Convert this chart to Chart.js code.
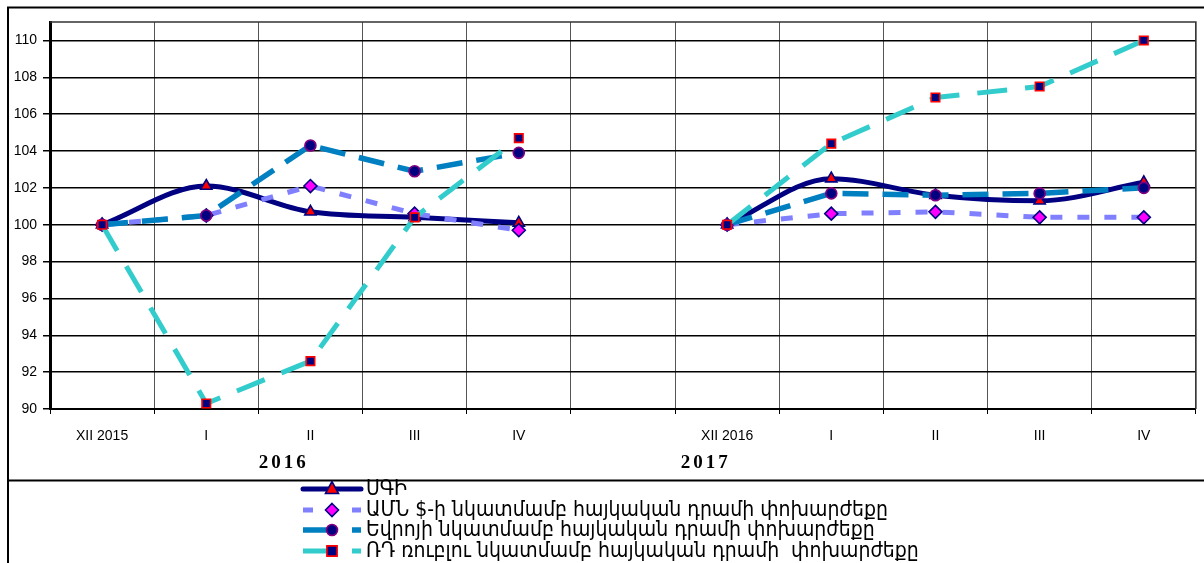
<!DOCTYPE html>
<html>
<head>
<meta charset="utf-8">
<script src="https://cdn.jsdelivr.net/npm/chart.js@4.4.1/dist/chart.umd.min.js"></script>
<style>
html,body{margin:0;padding:0;background:#fff;}
#wrap{position:relative;width:1204px;height:563px;}
</style>
</head>
<body>
<div id="wrap"><canvas id="c"></canvas></div>
<script>
// ---- data ----
const categories = ['XII 2015', 'I', 'II', 'III', 'IV', '', 'XII 2016', 'I', 'II', 'III', 'IV'];
const yearLabels = ['2016', '2017'];
const yearPositions = [1.73, 5.78]; // category-index positions of the year captions
const seriesNames = [
  'ՍԳԻ',
  'ԱՄՆ $-ի նկատմամբ հայկական դրամի փոխարժեքը',
  'Եվրոյի նկատմամբ հայկական դրամի փոխարժեքը',
  'ՌԴ ռուբլու նկատմամբ հայկական դրամի  փոխարժեքը'
];
const sgiValues = [100, 102.1, 100.7, 100.4, 100.1, null, 100, 102.5, 101.6, 101.3, 102.3];
const usdValues = [100, 100.5, 102.1, 100.6, 99.7, null, 100, 100.6, 100.7, 100.4, 100.4];
const eurValues = [100, 100.5, 104.3, 102.9, 103.9, null, 100, 101.7, 101.6, 101.7, 102.0];
const rubValues = [100, 90.3, 92.6, 100.4, 104.7, null, 100, 104.4, 106.9, 107.5, 110.0];
const yTickValues = [90, 92, 94, 96, 98, 100, 102, 104, 106, 108, 110];
const yMin = 90, yMax = 111;

// ---- styles ----
const styles = [
  {line:'#000080', dash:[], width:5, point:'triangle', fill:'#ff0000', border:'#000080', r:6.5, order:3, legendLeft:[303,361], legendRight:null},
  {line:'#8080ff', dash:[12,15], width:5, point:'rectRot', fill:'#ff00ff', border:'#000080', r:6.5, order:2, legendLeft:[303,313], legendRight:[352,361]},
  {line:'#0080c0', dash:[26,14], width:5.5, point:'circle', fill:'#000080', border:'#800080', r:5.5, order:1, legendLeft:[303,328], legendRight:[352,361]},
  {line:'#33cccc', dash:[30,18], width:5, point:'rect', fill:'#000080', border:'#ff0000', r:6, order:0, legendLeft:[303,327], legendRight:[352,361]}
];
const seriesValues = [sgiValues, usdValues, eurValues, rubValues];

const datasets = seriesValues.map((vals, i) => {
  const s = styles[i];
  return {
    label: seriesNames[i],
    data: vals,
    borderColor: s.line,
    backgroundColor: s.fill,
    borderWidth: s.width,
    borderDash: s.dash,
    borderCapStyle: i === 0 ? 'round' : 'butt',
    borderJoinStyle: 'round',
    tension: i === 0 ? 0.4 : 0,
    cubicInterpolationMode: i === 0 ? 'monotone' : 'default',
    pointStyle: s.point,
    pointRadius: s.r,
    pointBackgroundColor: s.fill,
    pointBorderColor: s.border,
    pointBorderWidth: 1.6,
    pointHoverRadius: s.r,
    spanGaps: false,
    order: s.order,
    fill: false
  };
});

function drawMarker(ctx, style, x, y, r, fill, border) {
  ctx.save();
  ctx.fillStyle = fill;
  ctx.strokeStyle = border;
  ctx.lineWidth = 1.6;
  ctx.setLineDash([]);
  ctx.beginPath();
  if (style === 'triangle') {
    ctx.moveTo(x, y - r * 1.15);
    ctx.lineTo(x + r, y + r * 0.7);
    ctx.lineTo(x - r, y + r * 0.7);
    ctx.closePath();
  } else if (style === 'rectRot') {
    ctx.moveTo(x, y - r); ctx.lineTo(x + r, y); ctx.lineTo(x, y + r); ctx.lineTo(x - r, y); ctx.closePath();
  } else if (style === 'circle') {
    ctx.arc(x, y, r, 0, Math.PI * 2);
  } else {
    const h = r * 0.85;
    ctx.rect(x - h, y - h, 2 * h, 2 * h);
  }
  ctx.fill();
  ctx.stroke();
  ctx.restore();
}

const framePlugin = {
  id: 'frame',
  beforeDatasetsDraw(chart) {
    const {ctx, chartArea: a} = chart;
    ctx.save();
    ctx.strokeStyle = '#333';
    ctx.lineWidth = 1.5;
    ctx.beginPath();
    ctx.moveTo(a.left, a.top); ctx.lineTo(a.right, a.top); ctx.lineTo(a.right, a.bottom);
    ctx.stroke();
    ctx.restore();
  },
  afterDraw(chart) {
    const {ctx} = chart;
    const xs = chart.scales.x;
    ctx.save();
    // outer frame
    ctx.strokeStyle = '#000';
    ctx.lineWidth = 2;
    ctx.beginPath();
    ctx.moveTo(8, 563); ctx.lineTo(8, 7.5); ctx.lineTo(1204, 7.5);
    ctx.moveTo(8, 480.5); ctx.lineTo(1204, 480.5);
    ctx.stroke();
    // year captions
    ctx.fillStyle = '#000';
    ctx.font = 'bold 19px "Liberation Serif", "DejaVu Serif", serif';
    if ('letterSpacing' in ctx) ctx.letterSpacing = '3px';
    ctx.textAlign = 'center';
    ctx.textBaseline = 'middle';
    yearLabels.forEach((t, i) => {
      ctx.fillText(t, xs.getPixelForValue(yearPositions[i]) + 1.5, 463);
    });
    if ('letterSpacing' in ctx) ctx.letterSpacing = '0px';
    // legend
    const rowY = [489, 510, 530, 551];
    ctx.textAlign = 'left';
    ctx.textBaseline = 'middle';
    const targetW = 522; // width of the second row text
    let fs = 20;
    ctx.font = fs + 'px "DejaVu Sans Condensed", "DejaVu Sans", sans-serif';
    const w = ctx.measureText(seriesNames[1]).width;
    fs = Math.max(12, Math.min(24, fs * targetW / w));
    ctx.font = fs.toFixed(2) + 'px "DejaVu Sans Condensed", "DejaVu Sans", sans-serif';
    styles.forEach((s, i) => {
      const y = rowY[i];
      ctx.strokeStyle = s.line;
      ctx.lineWidth = s.width;
      ctx.setLineDash([]);
      ctx.lineCap = i === 0 ? 'round' : 'butt';
      ctx.beginPath();
      ctx.moveTo(s.legendLeft[0], y); ctx.lineTo(s.legendLeft[1], y);
      if (s.legendRight) { ctx.moveTo(s.legendRight[0], y); ctx.lineTo(s.legendRight[1], y); }
      ctx.stroke();
      drawMarker(ctx, s.point, 332, y, s.r, s.fill, s.border);
      ctx.fillStyle = '#000';
      ctx.fillText(seriesNames[i], 366, y + 1);
    });
    ctx.restore();
  }
};

new Chart(document.getElementById('c'), {
  type: 'line',
  data: { labels: categories, datasets },
  options: {
    responsive: true,
    maintainAspectRatio: false,
    animation: false,
    devicePixelRatio: 1,
    layout: { padding: { left: 8, top: 22, right: 7, bottom: 104 } },
    plugins: { legend: { display: false }, tooltip: { enabled: false } },
    elements: { line: { borderJoinStyle: 'round' } },
    scales: {
      x: {
        type: 'category',
        offset: true,
        grid: { offset: true, color: '#555', lineWidth: 1, tickLength: 5, drawTicks: true, tickColor: '#000' },
        border: { color: '#000', width: 2 },
        ticks: { color: '#000', font: { family: '"Liberation Sans", Arial, sans-serif', size: 14 }, padding: 14, maxRotation: 0, autoSkip: false },
        afterFit(scale) { scale.height = 50; }
      },
      y: {
        min: yMin, max: yMax,
        afterBuildTicks(scale) { scale.ticks = yTickValues.map(v => ({ value: v })); },
        grid: { color: '#000', lineWidth: 1.5, tickLength: 7, drawTicks: true },
        border: { color: '#000', width: 3 },
        ticks: { color: '#000', font: { family: '"Liberation Sans", Arial, sans-serif', size: 14 }, padding: 6 },
        afterFit(scale) { scale.width = 42; }
      }
    }
  },
  plugins: [framePlugin]
});
</script>
</body>
</html>
